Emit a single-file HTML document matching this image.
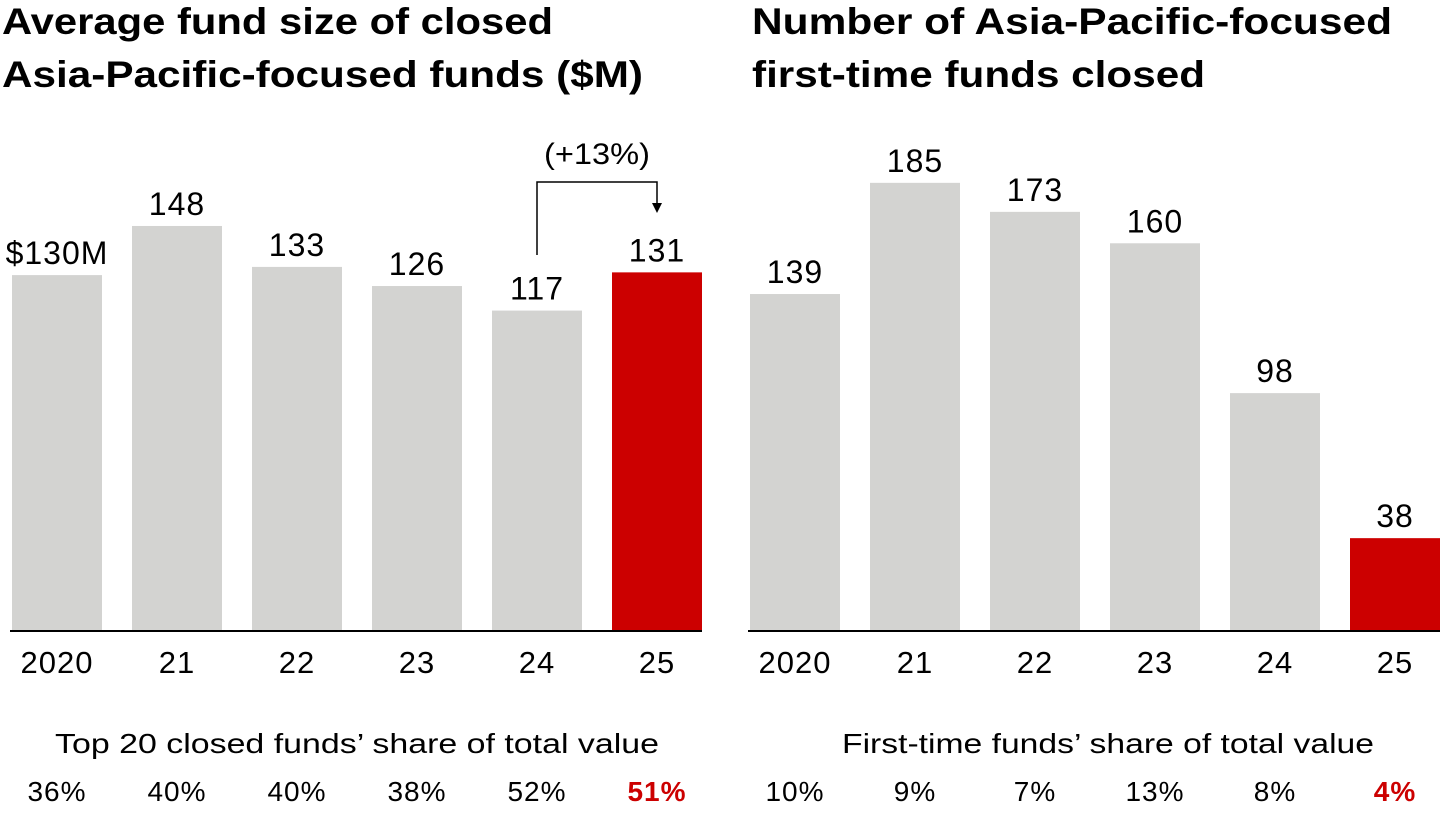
<!DOCTYPE html>
<html><head><meta charset="utf-8"><style>
body{margin:0;width:1440px;height:810px;background:#fff;overflow:hidden;font-family:"Liberation Sans",sans-serif;}
svg text{font-family:"Liberation Sans",sans-serif;}
</style></head><body>
<svg id="c" width="1440" height="810">
<text x="2" y="34" font-size="37" font-weight="bold" fill="#000" textLength="551" lengthAdjust="spacingAndGlyphs">Average fund size of closed</text>
<text x="2" y="87" font-size="37" font-weight="bold" fill="#000" textLength="641" lengthAdjust="spacingAndGlyphs">Asia-Pacific-focused funds ($M)</text>
<text x="752" y="34" font-size="37" font-weight="bold" fill="#000" textLength="640" lengthAdjust="spacingAndGlyphs">Number of Asia-Pacific-focused</text>
<text x="752" y="87" font-size="37" font-weight="bold" fill="#000" textLength="453" lengthAdjust="spacingAndGlyphs">first-time funds closed</text>
<text x="55" y="753" font-size="28" textLength="604" lengthAdjust="spacingAndGlyphs">Top 20 closed funds’ share of total value</text>
<text x="842" y="753" font-size="28" textLength="532" lengthAdjust="spacingAndGlyphs">First-time funds’ share of total value</text>
<text x="597" y="164" font-size="30" text-anchor="middle" textLength="106" lengthAdjust="spacingAndGlyphs">(+13%)</text>
<path d="M537 255 V182 H657 V207" fill="none" stroke="#000" stroke-width="1.5"/>
<path d="M652 203 L657 213 L662 203 Z" fill="#000"/>
</svg>
<script>
const categories=["2020","21","22","23","24","25"];
const leftValues=[130,148,133,126,117,131];
const leftLabels=["$130M","148","133","126","117","131"];
const leftShares=["36%","40%","40%","38%","52%","51%"];
const rightValues=[139,185,173,160,98,38];
const rightShares=["10%","9%","7%","13%","8%","4%"];
const svg=document.getElementById('c');
const NS='http://www.w3.org/2000/svg';
function mk(t,a){const e=document.createElementNS(NS,t);for(const k in a)e.setAttribute(k,a[k]);svg.appendChild(e);return e;}
function chart(prefix,x0,vals,labels,shares,scale){
  const base=630,bw=90,step=120;
  vals.forEach((v,i)=>{
    const x=x0+i*step,h=v*scale,last=i===vals.length-1;
    const r=mk('rect',{x:x,y:base-h,width:bw,height:h,fill:last?'#cc0000':'#d3d3d1'});
    
    
    const t=mk('text',{x:x+bw/2,y:base-h-11,'font-size':32,'text-anchor':'middle','letter-spacing':1});
    t.textContent=labels[i];
    
    
    const c=mk('text',{x:x+bw/2,y:673,'font-size':31,'text-anchor':'middle','letter-spacing':1});
    c.textContent=categories[i];
    
    
    const s=mk('text',{x:x+bw/2,y:801,'font-size':28,'text-anchor':'middle','letter-spacing':1,fill:last?'#cc0000':'#000','font-weight':last?'bold':'normal'});
    s.textContent=shares[i];
    
    
  });
  const l=mk('line',{x1:x0-2,x2:x0+(vals.length-1)*step+bw,y1:base+1,y2:base+1,stroke:'#000','stroke-width':2});
  
  
}
chart('left',12,leftValues,leftLabels,leftShares,2.73);
chart('right',750,rightValues,rightValues.map(String),rightShares,2.417);
</script>
</body></html>
